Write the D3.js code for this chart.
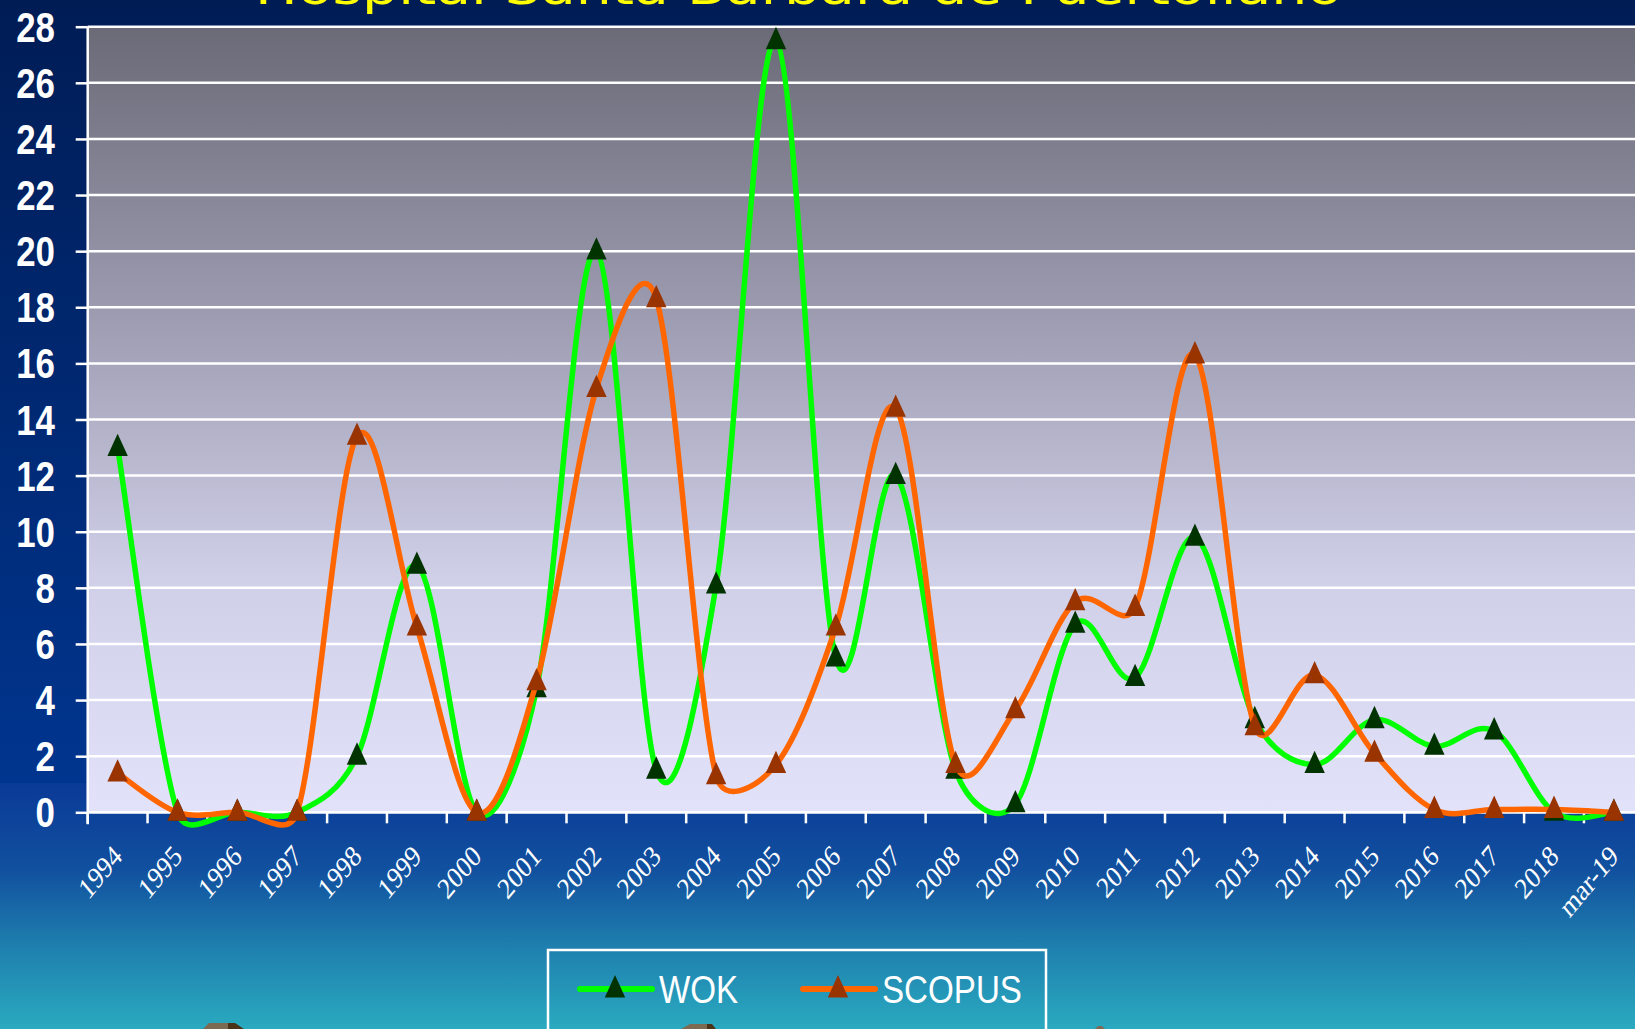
<!DOCTYPE html>
<html>
<head>
<meta charset="utf-8">
<script src="https://cdn.jsdelivr.net/npm/d3@7"></script>
<style>
  body { margin: 0; padding: 0; overflow: hidden; }
  svg { display: block; }
</style>
</head>
<body>
<div id="chart"></div>
<script>
// data

var years = ["1994", "1995", "1996", "1997", "1998", "1999", "2000", "2001", "2002", "2003",
  "2004", "2005", "2006", "2007", "2008", "2009", "2010", "2011", "2012", "2013",
  "2014", "2015", "2016", "2017", "2018", "mar-19"];

var wok = [13, 0, 0, 0, 2, 8.8, 0, 4.4, 20, 1.5,
  8.1, 27.5, 5.5, 12, 1.5, 0.3, 6.7, 4.8, 9.8, 3.3,
  1.7, 3.3, 2.35, 2.9, 0, 0];

var scopus = [1.4, 0, 0, 0, 13.4, 6.6, 0, 4.65, 15.1, 18.3,
  1.3, 1.7, 6.6, 14.4, 1.7, 3.65, 7.5, 7.3, 16.3, 3.05,
  4.9, 2.1, 0.1, 0.1, 0.1, 0];

var yTicks = d3.range(0, 29, 2);

var title = "Hospital Santa Bárbara de Puertollano";

// initial settings

var svgWidth = 1635;
var svgHeight = 1029;

var plotLeft = 87.7;
var plotRight = 1643.8;
var plotTop = 26.7;
var plotBottom = 812.3;
var squeeze = 0.83;   // the whole slide looks horizontally squeezed

var svg = d3.select("#chart")
  .append("svg")
  .attr("width", svgWidth)
  .attr("height", svgHeight);

var defs = svg.append("defs");

function gradient(id, stops) {
  var g = defs.append("linearGradient")
    .attr("id", id)
    .attr("x1", 0).attr("y1", 0).attr("x2", 0).attr("y2", 1);
  stops.forEach(s => g.append("stop").attr("offset", s[0]).attr("stop-color", s[1]));
}

gradient("bgTop", [[0, "#001c55"], [1, "#00358f"]]);
gradient("bgBottom", [[0, "#0a3a97"], [0.35, "#11509f"], [0.65, "#1e7dad"], [1, "#2aaac0"]]);
gradient("plotBg", [[0, "#6b6a77"], [0.35, "#9a99ae"], [0.7, "#cfcfe8"], [1, "#e2e2fb"]]);

// background

svg.append("rect")
  .attr("x", 0).attr("y", 0)
  .attr("width", svgWidth).attr("height", 783)
  .attr("fill", "url(#bgTop)");

svg.append("rect")
  .attr("x", 0).attr("y", 783)
  .attr("width", svgWidth).attr("height", svgHeight - 783)
  .attr("fill", "url(#bgBottom)");

// title, cut off by the top edge

svg.append("text")
  .attr("x", 255)
  .attr("y", 4)
  .attr("textLength", 1087)
  .attr("lengthAdjust", "spacingAndGlyphs")
  .attr("font-family", "DejaVu Sans")
  .attr("font-size", 46)
  .attr("fill", "#ffff00")
  .text(title);

// scales

var xline = d3.scaleBand()
  .domain(years)
  .range([plotLeft, plotRight]);

var yline = d3.scaleLinear()
  .domain([0, 28])
  .range([plotBottom, plotTop]);

var cx = d => xline(d) + xline.bandwidth() / 2;

// plot area

svg.append("rect")
  .attr("x", plotLeft).attr("y", plotTop)
  .attr("width", plotRight - plotLeft).attr("height", plotBottom - plotTop)
  .attr("fill", "url(#plotBg)");

// y ticks

var yaxis = svg.append("g")
  .attr("transform", `translate(${plotLeft}, 0)`)
  .call(d3.axisLeft(yline).tickValues(yTicks).tickSize(12).tickFormat(""));

yaxis.select(".domain").remove();
yaxis.selectAll("line").attr("stroke", "#fff").attr("stroke-width", 2.5);

// grid lines

svg.append("g")
  .selectAll("line")
  .data(yTicks)
  .enter()
  .append("line")
  .attr("x1", plotLeft).attr("x2", svgWidth)
  .attr("y1", d => yline(d)).attr("y2", d => yline(d))
  .attr("stroke", "#fff")
  .attr("stroke-width", 2.5);

// y labels

svg.append("g")
  .selectAll("text")
  .data(yTicks)
  .enter()
  .append("text")
  .attr("transform", d => `translate(55, ${yline(d) + 15}) scale(${squeeze}, 1)`)
  .attr("text-anchor", "end")
  .attr("font-family", "Liberation Sans, Arial")
  .attr("font-weight", "bold")
  .attr("font-size", 42)
  .attr("fill", "#fff")
  .text(d => d);

// axis lines

svg.append("line")
  .attr("x1", plotLeft).attr("x2", plotLeft)
  .attr("y1", plotTop).attr("y2", plotBottom + 12)
  .attr("stroke", "#fff").attr("stroke-width", 2.5);

svg.append("line")
  .attr("x1", plotLeft).attr("x2", svgWidth)
  .attr("y1", plotBottom).attr("y2", plotBottom)
  .attr("stroke", "#fff").attr("stroke-width", 2.5);

// x ticks on category boundaries

svg.append("g")
  .selectAll("line")
  .data(years)
  .enter()
  .append("line")
  .attr("x1", d => xline(d)).attr("x2", d => xline(d))
  .attr("y1", plotBottom).attr("y2", plotBottom + 11)
  .attr("stroke", "#fff").attr("stroke-width", 2.5);

// x labels

svg.append("g")
  .selectAll("text")
  .data(years)
  .enter()
  .append("text")
  .attr("transform", d => `translate(${cx(d) + 6}, 858) scale(${squeeze}, 1) rotate(-45)`)
  .attr("text-anchor", "end")
  .attr("font-family", "Liberation Serif, Times New Roman")
  .attr("font-size", 30)
  .attr("fill", "#fff")
  .text(d => d);

// excel style smoothing: bezier with control points capped at half the segment

function ExcelCurve(context) { this._context = context; }

ExcelCurve.prototype = {
  areaStart: function () {},
  areaEnd: function () {},
  lineStart: function () { this._pts = []; },
  point: function (x, y) { this._pts.push([+x, +y]); },
  lineEnd: function () {
    var p = this._pts, n = p.length, c = this._context;
    if (!n) return;
    var dist = (a, b) => Math.hypot(b[0] - a[0], b[1] - a[1]);
    c.moveTo(p[0][0], p[0][1]);
    for (var i = 0; i < n - 1; i++) {
      var p0 = p[i > 0 ? i - 1 : i], p1 = p[i], p2 = p[i + 1], p3 = p[i + 2 < n ? i + 2 : i + 1];
      var d12 = dist(p1, p2), d02 = dist(p0, p2), d13 = dist(p1, p3);
      var f1 = d02 > 0 ? Math.min(1 / 6, d12 / (2 * d02)) : 0;
      var f2 = d13 > 0 ? Math.min(1 / 6, d12 / (2 * d13)) : 0;
      c.bezierCurveTo(
        p1[0] + f1 * (p2[0] - p0[0]), p1[1] + f1 * (p2[1] - p0[1]),
        p2[0] - f2 * (p3[0] - p1[0]), p2[1] - f2 * (p3[1] - p1[1]),
        p2[0], p2[1]);
    }
  }
};

var excelCurve = context => new ExcelCurve(context);

// lines and markers

var line = d3.line()
  .x((d, i) => cx(years[i]))
  .y(d => yline(d))
  .curve(excelCurve);

var tri = d3.symbol().type(d3.symbolTriangle).size(200);

function series(values, lineColor, markColor) {
  svg.append("path")
    .datum(values)
    .attr("d", line)
    .attr("fill", "none")
    .attr("stroke", lineColor)
    .attr("stroke-width", 5.5)
    .attr("stroke-linejoin", "round");

  svg.append("g")
    .selectAll("path")
    .data(values)
    .enter()
    .append("path")
    .attr("d", tri)
    .attr("transform", (d, i) => `translate(${cx(years[i])}, ${yline(d) + 1}) scale(0.95, 1.2)`)
    .attr("fill", markColor);
}

series(wok, "#00ff00", "#003300");
series(scopus, "#ff6600", "#993300");

// legend

var legend = svg.append("g");

legend.append("rect")
  .attr("x", 548).attr("y", 950)
  .attr("width", 498).attr("height", 120)
  .attr("fill", "none")
  .attr("stroke", "#fff")
  .attr("stroke-width", 2.5);

var items = [
  { name: "WOK", line: "#00ff00", mark: "#003300", x: 580 },
  { name: "SCOPUS", line: "#ff6600", mark: "#993300", x: 803 }
];

items.forEach(it => {
  legend.append("line")
    .attr("x1", it.x).attr("x2", it.x + 72)
    .attr("y1", 989).attr("y2", 989)
    .attr("stroke", it.line)
    .attr("stroke-width", 6)
    .attr("stroke-linecap", "round");
  legend.append("path")
    .attr("d", tri)
    .attr("transform", `translate(${it.x + 35}, 990) scale(0.95, 1.2)`)
    .attr("fill", it.mark);
  legend.append("text")
    .attr("transform", `translate(${it.x + 79}, 1003) scale(0.85, 1)`)
    .attr("font-family", "Liberation Sans, Arial")
    .attr("font-size", 39)
    .attr("fill", "#fff")
    .text(it.name);
});

// tops of the pictures below the chart

var pics = [
  [[203, 1029], [209, 1023], [230, 1023], [230, 1029]],
  [[228, 1023], [235, 1023], [244, 1029], [228, 1029]],
  [[681, 1029], [690, 1024], [707, 1024], [707, 1029]],
  [[707, 1024], [712, 1024], [716, 1029], [707, 1029]],
  [[1095, 1029], [1098, 1026], [1102, 1026], [1105, 1029]]
];
var picColors = ["#7c6b52", "#4a3318", "#7c6b52", "#4a3318", "#7c6b52"];

svg.append("g")
  .selectAll("polygon")
  .data(pics)
  .enter()
  .append("polygon")
  .attr("points", d => d.map(p => p.join(",")).join(" "))
  .attr("fill", (d, i) => picColors[i]);
</script>
</body>
</html>
